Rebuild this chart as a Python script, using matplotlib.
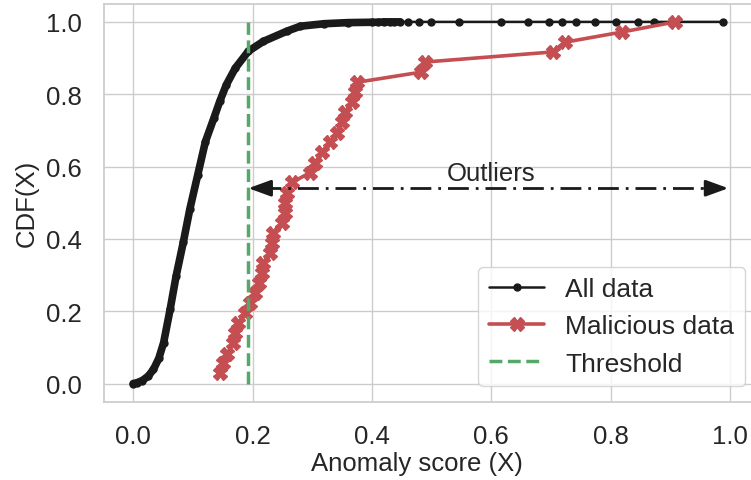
import matplotlib
matplotlib.use("Agg")
import matplotlib.pyplot as plt
import seaborn as sns

sns.set_theme(style="whitegrid", color_codes=True)
plt.rcParams["font.family"] = ["Liberation Sans", "DejaVu Sans"]

# CDF of all anomaly scores
all_x = [0.0, 0.006, 0.015, 0.025, 0.034, 0.043, 0.051, 0.062, 0.072, 0.084,
         0.095, 0.108, 0.121, 0.135, 0.145, 0.156, 0.171, 0.193, 0.218, 0.257,
         0.28, 0.32, 0.36, 0.40, 0.41, 0.42, 0.43, 0.437, 0.447, 0.461, 0.478,
         0.499, 0.545, 0.616, 0.662, 0.697, 0.719, 0.741, 0.774, 0.809, 0.845,
         0.873, 0.988]
all_y = [0.0, 0.002, 0.008, 0.02, 0.039, 0.07, 0.113, 0.206, 0.298, 0.391,
         0.483, 0.576, 0.669, 0.733, 0.78, 0.826, 0.872, 0.919, 0.946, 0.974,
         0.988, 0.995, 0.998, 0.999, 0.999, 1.0, 1.0, 1.0, 1.0, 1.0, 1.0,
         1.0, 1.0, 1.0, 1.0, 1.0, 1.0, 1.0, 1.0, 1.0, 1.0,
         1.0, 1.0]
dense_until = 0.447  # dots overlap into a solid band up to here

# CDF of malicious samples
mal_x = [0.146, 0.151, 0.157, 0.168, 0.171, 0.176, 0.188, 0.196, 0.204, 0.21,
         0.216, 0.218, 0.229, 0.232, 0.235, 0.249, 0.255, 0.255, 0.257, 0.266,
         0.296, 0.305, 0.316, 0.33, 0.341, 0.35, 0.355, 0.366, 0.372, 0.375,
         0.482, 0.489, 0.704, 0.724, 0.819, 0.908]
mal_y = [0.028, 0.056, 0.083, 0.111, 0.139, 0.167, 0.194, 0.222, 0.25, 0.278,
         0.306, 0.333, 0.361, 0.389, 0.417, 0.444, 0.472, 0.5, 0.528, 0.556,
         0.583, 0.611, 0.639, 0.667, 0.694, 0.722, 0.75, 0.778, 0.806, 0.833,
         0.861, 0.889, 0.917, 0.944, 0.972, 1.0]

threshold = 0.193
arrow_y = 0.54
arrow_end = 0.997

fig, ax = plt.subplots(figsize=(7.51, 4.81), dpi=100)
fig.subplots_adjust(left=0.138, right=1.004, top=0.99, bottom=0.163)

dense_x = [x for x in all_x if x <= dense_until]
dense_y = all_y[:len(dense_x)]
ax.plot(dense_x, dense_y, color="k", lw=5.5, solid_capstyle="round",
        solid_joinstyle="round", zorder=3)
ax.plot(all_x, all_y, "-o", color="k", lw=1.8, ms=5, label="All data", zorder=3)
ax.plot(mal_x, mal_y, "-X", color="r", lw=2.6, ms=9.5, label="Malicious data", zorder=4)
ax.vlines(threshold, 0, 1, colors="g", linestyles="--", lw=2.5, label="Threshold", zorder=5)

# double arrow marking the outlier region
ax.plot([threshold + 0.02, arrow_end - 0.02], [arrow_y, arrow_y], color="k",
        lw=2, linestyle=(0, (7.5, 2.5, 1, 2.5)), zorder=6)
for x0, x1 in [(threshold + 0.04, threshold), (arrow_end - 0.04, arrow_end)]:
    ax.annotate("", xy=(x1, arrow_y), xytext=(x0, arrow_y), zorder=6,
                arrowprops=dict(arrowstyle="-|>,head_length=0.55,head_width=0.2",
                                color="k", lw=2, mutation_scale=25,
                                shrinkA=0, shrinkB=0))
ax.text(0.6, arrow_y + 0.01, "Outliers", ha="center", va="bottom",
        fontsize=18.5, color="#262626")

ax.set_xlim(-0.0495, 1.04)
ax.set_ylim(-0.05, 1.05)
ax.set_xticks([0.0, 0.2, 0.4, 0.6, 0.8, 1.0])
ax.set_yticks([0.0, 0.2, 0.4, 0.6, 0.8, 1.0])
ax.tick_params(labelsize=18.5, colors="#262626", pad=10)
ax.set_xlabel("Anomaly score (X)", fontsize=18.5, color="#262626")
ax.set_ylabel("CDF(X)", fontsize=18.5, color="#262626", labelpad=5)
ax.xaxis.set_label_coords(0.482, -0.125)

ax.legend(loc="lower right", fontsize=19, bbox_to_anchor=(0.986, 0.039),
          borderaxespad=0, handlelength=2.1, handletextpad=0.8,
          borderpad=0.4, labelspacing=0.5)

plt.savefig("out.png", dpi=100)
